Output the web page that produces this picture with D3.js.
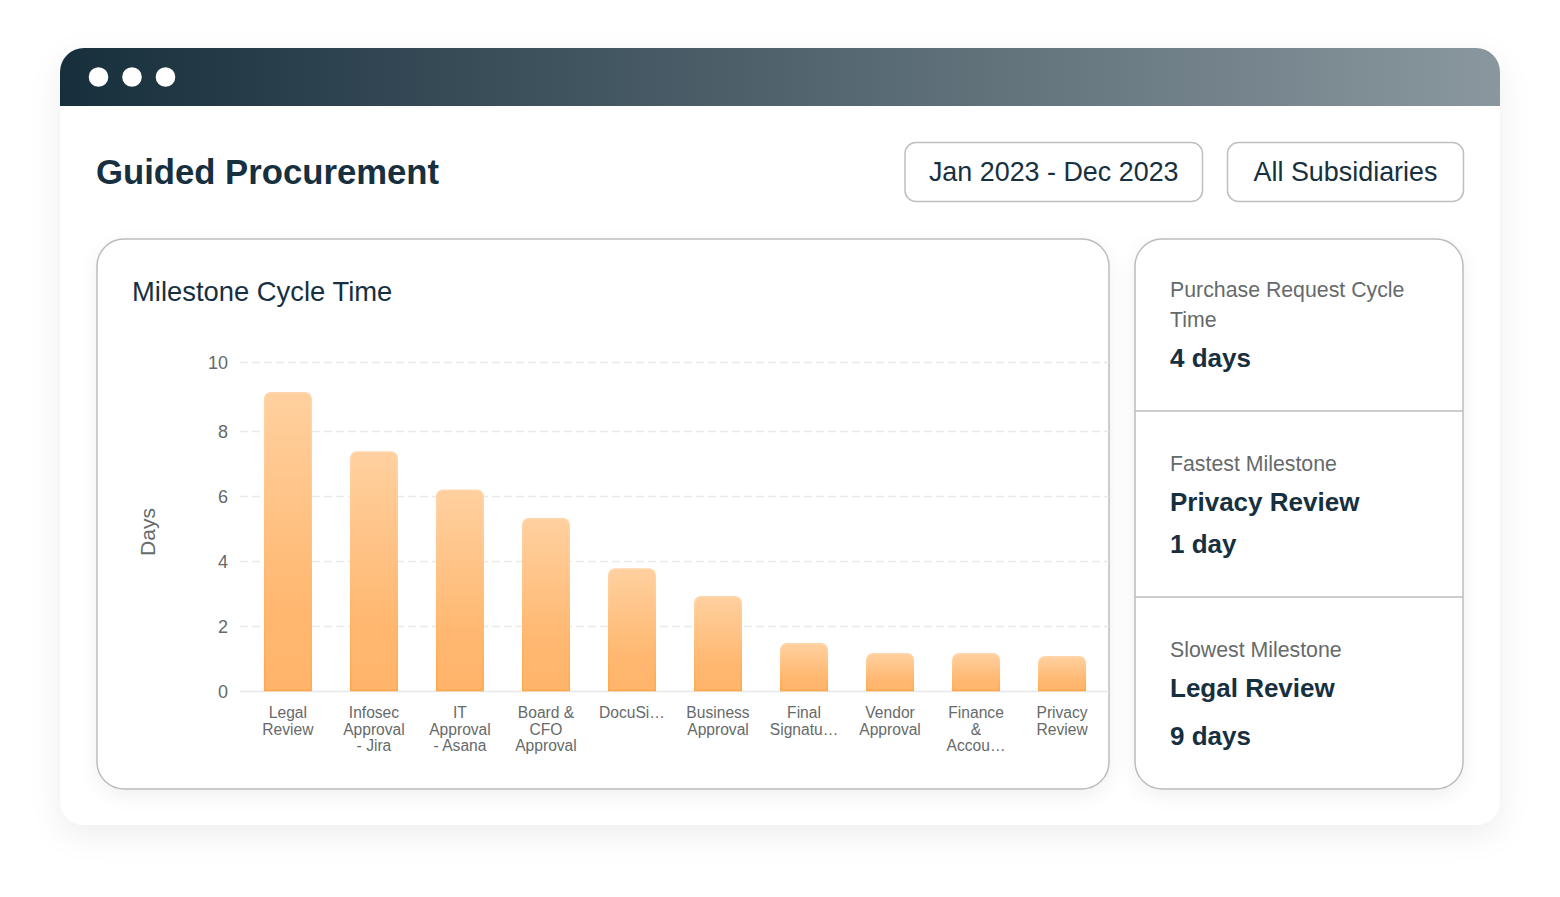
<!DOCTYPE html>
<html><head><meta charset="utf-8">
<script src="https://cdnjs.cloudflare.com/ajax/libs/d3/7.8.5/d3.min.js"></script>
<style>html,body{margin:0;padding:0;background:#fff}svg{display:block}text{font-family:"Liberation Sans",Arial,sans-serif}</style>
</head><body><div id="c"></div>
<script>
const categories=["Legal Review","Infosec Approval - Jira","IT Approval - Asana","Board & CFO Approval","DocuSign","Business Approval","Final Signature","Vendor Approval","Finance & Accounting","Privacy Review"];
const tickLabels=[["Legal","Review"],["Infosec","Approval","- Jira"],["IT","Approval","- Asana"],["Board &","CFO","Approval"],["DocuSi…"],["Business","Approval"],["Final","Signatu…"],["Vendor","Approval"],["Finance","&","Accou…"],["Privacy","Review"]];
const days=[9.13,7.38,6.2,5.32,3.78,2.92,1.48,1.17,1.17,1.08];
const yTicks=[0,2,4,6,8,10];
const yStops=[0,8,10];
const sideStats=[
 {lines:[["Purchase Request Cycle",297,"l"],["Time",327,"l"],["4 days",367,"v"]]},
 {lines:[["Fastest Milestone",471,"l"],["Privacy Review",511,"v"],["1 day",553,"v"]]},
 {lines:[["Slowest Milestone",657,"l"],["Legal Review",697,"v"],["9 days",745,"v"]]}
];
const dark="#17303f",grey="#666a6b";
const svg=d3.select("#c").append("svg").attr("width",1560).attr("height",897);
const defs=svg.append("defs");
const g1=defs.append("linearGradient").attr("id","head");
[["0%","#172f3c"],["100%","#8a979e"]].forEach(s=>g1.append("stop").attr("offset",s[0]).attr("stop-color",s[1]));
const g2=defs.append("linearGradient").attr("id","bar").attr("x1",0).attr("x2",0).attr("y1",0).attr("y2",1);
[["0%","#ffd09f"],["70%","#ffb871"],["100%","#ffb46a"]].forEach(s=>g2.append("stop").attr("offset",s[0]).attr("stop-color",s[1]));
const g3=defs.append("linearGradient").attr("id","barS").attr("x1",0).attr("x2",0).attr("y1",0).attr("y2",1);
[["0%","#ffd6ac"],["100%","#ffa849"]].forEach(s=>g3.append("stop").attr("offset",s[0]).attr("stop-color",s[1]));
const f=defs.append("filter").attr("id","sh").attr("x","-10%").attr("y","-15%").attr("width","120%").attr("height","130%");
f.append("feDropShadow").attr("dx",0).attr("dy",10).attr("stdDeviation",15).attr("flood-color","#000").attr("flood-opacity",.07);
const f2=defs.append("filter").attr("id","sh2").attr("x","-10%").attr("y","-10%").attr("width","120%").attr("height","125%");
f2.append("feDropShadow").attr("dx",0).attr("dy",6).attr("stdDeviation",9).attr("flood-color","#000").attr("flood-opacity",.06);

// window
svg.append("rect").attr("x",60).attr("y",48).attr("width",1440).attr("height",777).attr("rx",24).attr("fill","#fff").attr("filter","url(#sh)");
svg.append("path").attr("d","M60 106V72a24 24 0 0 1 24-24H1476a24 24 0 0 1 24 24V106Z").attr("fill","url(#head)");
svg.selectAll(".dot").data([98.5,132,165.5]).join("circle").attr("cx",d=>d).attr("cy",77).attr("r",9.8).attr("fill","#fff");

svg.append("text").attr("x",96).attr("y",184).attr("font-size",34.7).attr("font-weight",700).attr("fill",dark).text("Guided Procurement");
[[905,297.5,"Jan 2023 - Dec 2023"],[1227.5,236,"All Subsidiaries"]].forEach(b=>{
 svg.append("rect").attr("x",b[0]).attr("y",142.5).attr("width",b[1]).attr("height",59).attr("rx",11).attr("fill","#fff").attr("stroke","#bdbfc0").attr("stroke-width",1.5);
 svg.append("text").attr("x",b[0]+b[1]/2).attr("y",181).attr("text-anchor","middle").attr("font-size",26.9).attr("fill",dark).text(b[2]);
});

// panels
[[97,1012],[1135,328]].forEach(p=>svg.append("rect").attr("x",p[0]).attr("y",239).attr("width",p[1]).attr("height",550).attr("rx",27).attr("fill","#fff").attr("stroke","#bcbcbc").attr("stroke-width",1.5).attr("filter","url(#sh2)"));
svg.append("text").attr("x",132).attr("y",301).attr("font-size",27.4).attr("fill",dark).text("Milestone Cycle Time");

// chart
const y=d3.scaleLinear().domain(yStops).range([691,431,362]);
const x=d3.scaleBand().domain(categories).range([245,1105]).paddingInner(.442).paddingOuter(.22);
const yAxis=svg.append("g").attr("transform","translate(240,0.8)").call(d3.axisLeft(y).tickValues(yTicks).tickSize(0).tickPadding(12));
yAxis.select(".domain").remove();
yAxis.selectAll("text").attr("font-size",18).attr("fill",grey).style("font-family",'"Liberation Sans"');
svg.append("g").selectAll("line").data(yTicks.filter(d=>d>0)).join("line")
 .attr("x1",240).attr("x2",1109).attr("y1",d=>y(d)+.5).attr("y2",d=>y(d)+.5)
 .attr("stroke","#e9e9e3").attr("stroke-width",1.5).attr("stroke-dasharray","8 4");
svg.append("line").attr("x1",240).attr("x2",1109).attr("y1",y(0)+.5).attr("y2",y(0)+.5).attr("stroke","#e7e7e7").attr("stroke-width",1.5);

const bw=x.bandwidth();
svg.append("g").selectAll("path").data(days).join("path")
 .attr("d",(d,i)=>{const a=x(categories[i])+.75,w=bw-1.5,t=y(d)+.75,b=y(0)-.5,r=6;
   return `M${a} ${b}V${t+r}a${r} ${r} 0 0 1 ${r} ${-r}H${a+w-r}a${r} ${r} 0 0 1 ${r} ${r}V${b}Z`;})
 .attr("fill","url(#bar)").attr("stroke","url(#barS)").attr("stroke-width",1.5);

const xAxis=svg.append("g").attr("transform","translate(0,691)").call(d3.axisBottom(x).tickSize(0).tickFormat(""));
xAxis.select(".domain").remove();
xAxis.selectAll(".tick").each(function(d,i){
 const t=d3.select(this).select("text").text(null).attr("y",null).attr("dy",null).attr("text-anchor","middle").attr("font-size",15.6).attr("fill",grey).style("font-family",'"Liberation Sans"');
 tickLabels[i].forEach((s,k)=>t.append("tspan").attr("x",0).attr("y",27.3+k*16.4).text(s));
});
svg.append("text").attr("transform","translate(155,532) rotate(-90)").attr("text-anchor","middle").attr("font-size",21).attr("fill",grey).text("Days");

// side stats
svg.selectAll(".div").data([411,597]).join("line").attr("x1",1135).attr("x2",1463).attr("y1",d=>d).attr("y2",d=>d).attr("stroke","#bcbcbc").attr("stroke-width",1.5);
sideStats.forEach(s=>s.lines.forEach(l=>{
 svg.append("text").attr("x",1170).attr("y",l[1])
  .attr("font-size",l[2]=="l"?21.3:26).attr("font-weight",l[2]=="l"?400:700)
  .attr("fill",l[2]=="l"?grey:dark).text(l[0]);
}));
</script></body></html>
